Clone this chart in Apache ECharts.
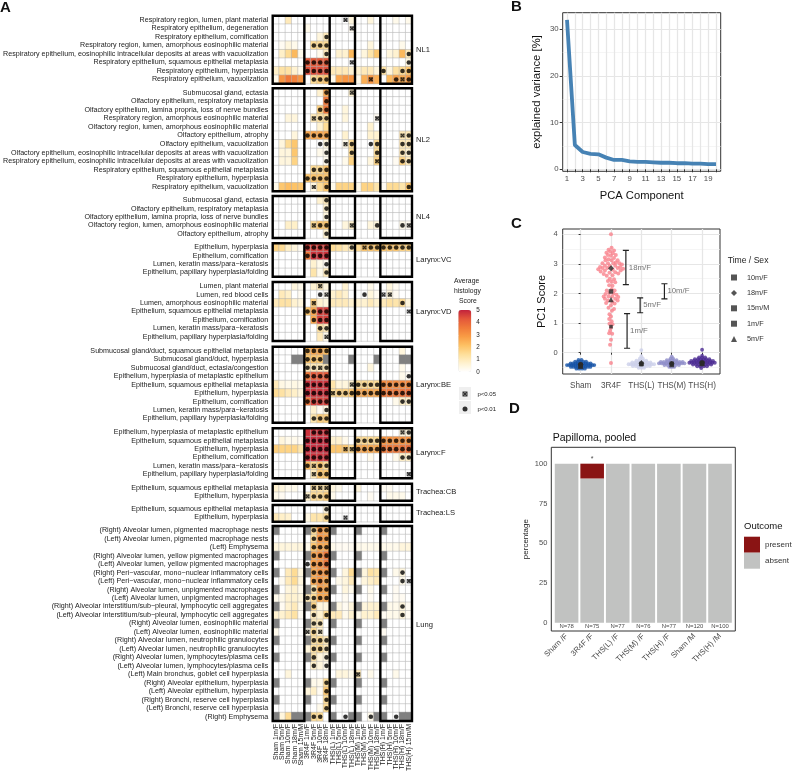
<!DOCTYPE html>
<html><head><meta charset="utf-8">
<style>html,body{margin:0;padding:0;background:#fff}#c{width:794px;height:774px}</style>
<script src="https://cdn.jsdelivr.net/npm/echarts@6/dist/echarts.min.js"></script>
</head><body><div id="c"></div>
<script>
const columns=['Sham 1m/F','Sham 5m/F','Sham 10m/F','Sham 18m/F','Sham 15m/M','3R4F 1m/F','3R4F 5m/F','3R4F 10m/F','3R4F 18m/F','THS(L) 1m/F','THS(L) 5m/F','THS(L) 10m/F','THS(L) 18m/F','THS(M) 1m/F','THS(M) 5m/F','THS(M) 10m/F','THS(M) 18m/F','THS(H) 1m/F','THS(H) 5m/F','THS(H) 10m/F','THS(H) 18m/F','THS(H) 15m/M'];
const groupBreaks=[5,9,13,17];

const nl1Rows=['Respiratory region, lumen, plant material','Respiratory epithelium, degeneration','Respiratory epithelium, cornification','Respiratory region, lumen, amorphous eosinophilic material','Respiratory epithelium, eosinophilic intracellular deposits at areas with vacuolization','Respiratory epithelium, squamous epithelial metaplasia','Respiratory epithelium, hyperplasia','Respiratory epithelium, vacuolization'];
const nl1Scores=[
[0,0,1,0,0, 0,0,0,0, 0,0,0,.5, 0,0,.5,0, 0,0,.3,0,.3],
[0,0,0,0,0, .3,0,0,0, 0,0,0,.2, 0,0,0,0, 0,0,0,0,0],
[0,0,0,0,0, 0,0,.5,1, 0,0,0,0, 0,0,0,0, 0,0,0,0,0],
[0,.2,.5,.3,0, 0,1.5,1.5,1.5, 0,0,0,0, 0,0,.5,0, 0,0,0,.3,0],
[0,.8,1.5,2.3,.3, 0,0,.3,1, 0,.7,.7,2.3, 0,.5,1.2,2, 0,.5,.7,2.3,1],
[0,0,0,0,0, 4.2,4.2,4.2,4.2, 0,0,0,0, 0,0,0,0, 0,0,0,0,.5],
[.8,1.3,1.3,.7,.3, 4.4,4.4,4.4,4.4, 1,1,1,.7, .7,1,1,.5, 1.3,.5,1.3,1.5,2],
[.3,3,3.6,3.4,3, 0,1.5,1.8,2, .3,2.7,3,3, .3,2.5,3,2.5, 0,2.3,2.8,2.5,2.8]];
const nl1P05=[[11],[12],[],[],[],[12],[],[15,20]];
const nl1P01=[[],[],[8],[6,7,8],[8,21],[5,6,7,8,21],[5,6,7,8,17,20,21],[6,7,8,19,21]];

const nl2Rows=['Submucosal gland, ectasia','Olfactory epithelium, respiratory metaplasia','Olfactory epithelium, lamina propria, loss of nerve bundles','Respiratory region, amorphous eosinophilic material','Olfactory region, lumen, amorphous eosinophilic material','Olfactory epithelium, atrophy','Olfactory epithelium, vacuolization','Olfactory epithelium, eosinophilic intracellular deposits at areas with vacuolization','Respiratory epithelium, eosinophilic intracellular deposits at areas with vacuolization','Respiratory epithelium, squamous epithelial metaplasia','Respiratory epithelium, hyperplasia','Respiratory epithelium, vacuolization'];
const nl2Scores=[
[0,0,0,0,0, 0,0,.7,2.6, 0,0,0,.7, 0,0,0,0, 0,0,0,0,0],
[0,0,0,0,0, 0,0,0,3.6, 0,0,0,0, 0,0,0,0, 0,0,0,0,0],
[0,0,0,0,0, 0,0,1.8,3.6, 0,0,.5,0, 0,0,0,0, 0,0,0,0,0],
[0,0,.5,.5,0, 0,1,1.3,1.5, 0,0,.5,0, 0,0,0,.2, 0,0,0,0,0],
[0,0,0,0,0, 0,0,.7,1.5, 0,0,0,0, 0,0,.7,0, 0,0,0,0,0],
[0,0,0,.5,0, 2.6,2.6,2.6,2.6, 0,0,.7,0, 0,0,.7,.7, 0,0,0,1,1],
[0,.5,1.5,2,0, 0,0,0,.5, 0,0,.3,1.5, 0,0,0,1.5, 0,0,0,1,1],
[0,.5,.5,2,0, 0,0,.3,.3, 0,0,0,1.5, 0,0,0,1.5, 0,0,0,1,.7],
[0,.5,.5,1.7,0, 0,0,0,.3, 0,0,.3,1.7, 0,0,.5,1.7, 0,0,.2,1.7,1],
[0,0,0,0,0, 0,1.5,1.5,2, 0,0,0,0, 0,0,0,0, 0,0,0,0,0],
[0,0,0,0,0, 2,2,2,2, 0,0,0,0, 0,0,0,0, 0,0,0,0,0],
[.3,2,2.2,2.1,2, 0,.5,1.5,2, .3,1.7,1.7,1.7, .3,1.7,1.7,1.2, .2,1.5,1.5,1.2,2]];
const nl2P05=[[12],[],[],[6,16],[],[20],[11],[],[16],[],[],[6]];
const nl2P01=[[8],[8],[7,8],[7,8],[],[5,6,7,8,21],[7,8,12,15,16,20,21],[8,12,16,20,21],[8,20,21],[6,7,8],[5,6,7,8],[8,21]];

const nl4Rows=['Submucosal gland, ectasia','Olfactory epithelium, respiratory metaplasia','Olfactory epithelium, lamina propria, loss of nerve bundles','Olfactory region, lumen, amorphous eosinophilic material','Olfactory epithelium, atrophy'];
const nl4Scores=[
[0,0,0,0,0, 0,0,.7,1, 0,0,0,0, 0,0,0,0, 0,0,0,0,0],
[0,0,0,0,0, 0,0,0,.7, 0,0,0,0, 0,0,0,0, 0,0,0,0,0],
[0,0,0,0,0, 0,0,0,.5, 0,0,0,0, 0,0,0,0, 0,0,0,0,0],
[0,0,.8,.8,0, 0,1.5,2,2, 0,0,.5,.7, 0,0,.5,.5, 0,0,0,.3,.2],
[0,0,0,0,0, 0,0,0,.7, 0,0,0,0, 0,0,0,0, 0,0,0,0,0]];
const nl4P05=[[],[],[],[6,12,21],[]];
const nl4P01=[[8],[8],[8],[7,8,16,20],[8]];

const vcRows=['Epithelium, hyperplasia','Epithelium, cornification','Lumen, keratin mass/para\u2212keratosis','Epithelium, papillary hyperplasia/folding'];
const vcScores=[
[1.7,1.5,.8,.5,.2, 4.6,4.6,4.6,4.6, 1.5,1.3,1,1, 1.5,2,2,2, 2,2,2,1.7,1.7],
[0,0,0,0,0, 3.6,4.8,4.8,4.8, 0,0,0,0, 0,0,0,0, 0,0,0,0,0],
[0,0,0,0,0, 0,.7,.3,.2, 0,0,0,0, 0,0,0,0, 0,0,0,0,0],
[0,0,0,0,0, 0,1.2,.3,1, 0,0,0,0, 0,0,0,0, 0,0,0,0,0]];
const vcP05=[[14],[],[],[]];
const vcP01=[[5,6,7,8,12,15,16,17,18,19,20,21],[5,6,7,8],[8],[8]];

const vdRows=['Lumen, plant material','Lumen, red blood cells','Lumen, amorphous eosinophilic material','Epithelium, squamous epithelial metaplasia','Epithelium, cornification','Lumen, keratin mass/para\u2212keratosis','Epithelium, papillary hyperplasia/folding'];
const vdScores=[
[0,0,0,.5,.3, 0,.7,1,.5, 0,0,.7,0, 0,0,.3,0, 0,.5,.2,0,0],
[0,1,.8,0,.2, 0,0,0,.2, .7,1,.7,0, 0,0,.5,.2, 0,.5,.2,0,0],
[1,1.3,1.3,.7,.5, 0,1.8,.7,.5, 1,1,1,.7, .7,.7,1,.7, 1,1.3,1.2,1.5,.5],
[0,0,0,0,0, 2,2.6,4.6,4.6, 0,0,0,0, 0,0,0,0, 0,0,0,0,0],
[0,0,0,0,0, 0,2.6,4.6,4.6, 0,0,0,0, 0,0,0,0, 0,0,0,0,0],
[0,0,0,0,0, 0,0,1.3,1, 0,0,0,0, 0,0,0,0, 0,0,0,0,0],
[0,0,0,0,0, 0,0,1,.3, 0,0,0,0, 0,0,0,0, 0,0,0,0,0]];
const vdP05=[[7],[8,17,18],[6],[21],[],[],[8]];
const vdP01=[[],[7,14],[20],[5,6,7,8],[6,7,8],[7,8],[]];

const beRows=['Submucosal gland/duct, squamous epithelial metaplasia','Submucosal gland/duct, hyperplasia','Submucosal gland/duct, ectasia/congestion','Epithelium, hyperplasia of metaplastic epithelium','Epithelium, squamous epithelial metaplasia','Epithelium, hyperplasia','Epithelium, cornification','Lumen, keratin mass/para\u2212keratosis','Epithelium, papillary hyperplasia/folding'];
const beScores=[
[0,0,0,0,0, 2.3,2.6,2.6,2.2, 0,0,0,0, 0,0,0,0, 0,0,0,.5,0],
[0,0,0,-1,-1, 2,2,2,-1, 0,0,0,-1, 0,0,0,-1, 0,0,0,-1,-1],
[0,0,0,0,0, 1,1,1,1, 0,0,0,0, 0,0,.5,0, 0,0,0,.3,0],
[0,0,0,0,0, 3.6,4.2,4.2,4.2, 0,0,0,0, 0,0,0,0, 0,0,0,.3,.2],
[1,.4,.3,.4,.3, 4.8,4.8,4.8,4.8, 1.2,.5,.5,.7, 1.5,1.5,1.5,1.5, 3.2,3.2,3.2,3.2,3.2],
[1.5,1.3,1,.8,.5, 4.8,4.8,4.8,4.8, 1.5,1.7,1.7,2, 2.6,2.6,2.6,2.6, 3.6,3.6,3.6,3.7,3.8],
[0,0,0,0,0, 3.6,4.6,4.6,4.6, 0,0,0,0, 0,0,0,0, 0,0,.3,.8,.8],
[0,0,0,0,0, 0,.7,.2,.5, 0,0,0,0, 0,0,0,0, 0,0,0,0,0],
[0,0,0,0,0, 0,1.2,1.8,1.8, 0,0,0,0, 0,0,0,0, 0,0,0,0,0]];
const beP05=[[],[],[7],[],[12],[9],[],[],[]];
const beP01=[[5,6,7,8],[5,6,7],[5,6,8],[5,6,7,8,21],[5,6,7,8,13,14,15,16,17,18,19,20,21],[5,6,7,8,10,11,12,13,14,15,16,17,18,19,20,21],[5,6,7,8,20,21],[8],[6,7,8]];

const fRows=['Epithelium, hyperplasia of metaplastic epithelium','Epithelium, squamous epithelial metaplasia','Epithelium, hyperplasia','Epithelium, cornification','Lumen, keratin mass/para\u2212keratosis','Epithelium, papillary hyperplasia/folding'];
const fScores=[
[0,0,0,0,0, 4.8,4.8,4.8,4.8, 0,0,0,0, 0,0,0,0, 0,0,0,.5,.5],
[0,.5,.3,.3,.2, 4.9,4.9,4.9,4.9, .7,.7,.3,0, 1.5,1.5,1.5,1.5, 3,3,3,3,3],
[1.8,1.7,1.7,1.7,1.2, 4.9,4.9,4.9,4.9, 2,2,2,1.5, 2.6,2.6,2.6,2.6, 3.6,3.6,3.6,3.7,3.8],
[0,0,0,0,0, 4.8,4.8,4.8,4.8, 0,0,0,0, 0,0,.3,0, 0,0,.3,.8,.8],
[0,0,0,0,0, 2.3,1.5,2,1.5, 0,0,0,0, 0,0,0,0, 0,0,0,0,0],
[0,0,0,0,0, 0,1,2,2, 0,0,0,0, 0,0,0,0, 0,0,0,0,0]];
const fP05=[[20],[],[11,12],[],[6],[6,21]];
const fP01=[[6,7,8,21],[5,6,7,8,13,14,15,16,17,18,19,20,21],[5,6,7,8,13,14,15,16,17,18,19,20,21],[5,6,7,8,20,21],[5,7,8],[7,8]];

const cbRows=['Epithelium, squamous epithelial metaplasia','Epithelium, hyperplasia'];
const cbScores=[
[.7,.5,.3,.3,0, 0,1.3,1.3,1.3, .5,.3,0,0, .5,0,0,0, .2,.2,0,0,0],
[.3,.2,0,0,0, .7,1.5,1.5,1.8, .3,0,0,0, 0,0,.2,0, 0,.3,.3,.3,0]];
const cbP05=[[6,7,8],[5]];
const cbP01=[[],[6,7,8]];

const lsRows=['Epithelium, squamous epithelial metaplasia','Epithelium, hyperplasia'];
const lsScores=[
[0,0,0,0,0, 0,0,0,.5, 0,0,0,0, 0,0,0,0, 0,0,0,0,0],
[1,.8,.7,0,0, .4,1.2,1.2,1.5, 0,0,0,0, 0,0,0,0, 0,0,0,0,0]];
const lsP05=[[],[11]];
const lsP01=[[8],[8]];

const lungRows=['(Right) Alveolar lumen, pigmented macrophage nests','(Left) Alveolar lumen, pigmented macrophage nests','(Left) Emphysema','(Right) Alveolar lumen, yellow pigmented macrophages','(Left) Alveolar lumen, yellow pigmented macrophages','(Right) Peri\u2212vascular, mono\u2212nuclear inflammatory cells','(Left) Peri\u2212vascular, mono\u2212nuclear inflammatory cells','(Right) Alveolar lumen, unpigmented macrophages','(Left) Alveolar lumen, unpigmented macrophages','(Right) Alveolar interstitium/sub\u2212pleural, lymphocytic cell aggregates','(Left) Alveolar interstitium/sub\u2212pleural, lymphocytic cell aggregates','(Right) Alveolar lumen, eosinophilic material','(Left) Alveolar lumen, eosinophilic material','(Right) Alveolar lumen, neutrophilic granulocytes','(Left) Alveolar lumen, neutrophilic granulocytes','(Right) Alveolar lumen, lymphocytes/plasma cells','(Left) Alveolar lumen, lymphocytes/plasma cells','(Left) Main bronchus, goblet cell hyperplasia','(Right) Alveolar epithelium, hyperplasia','(Left) Alveolar epithelium, hyperplasia','(Right) Bronchi, reserve cell hyperplasia','(Left) Bronchi, reserve cell hyperplasia','(Right) Emphysema'];
const lungScores=[
[-1,0,0,0,0, -1,1.5,3,2.6, -1,0,0,0, -1,0,0,0, -1,0,0,0,0],
[0,0,0,0,0, 0,1.5,3,2.8, 0,0,0,0, 0,0,0,0, 0,0,0,0,0],
[.5,.5,.5,.5,.5, .3,2,2.6,2.6, .3,.2,.2,.2, .3,.3,.3,.3, .3,.3,.3,.5,.5],
[-1,0,0,0,0, -1,2.6,3,3.6, -1,0,0,0, -1,0,0,0, -1,0,0,0,0],
[0,0,0,0,0, 0,2.8,3,3.6, 0,0,0,0, 0,0,0,0, 0,0,0,0,0],
[-1,0,1,1.5,.5, -1,2.6,3,3, -1,0,.5,1.5, -1,.5,1.3,1.2, -1,0,.3,.5,0],
[0,.2,1,1.5,.5, 0,2.6,3,2.6, 0,.3,.5,1, 0,.5,.8,1, 0,0,0,.3,0],
[-1,0,.5,.7,.3, -1,1.2,2.8,2.6, -1,0,.5,.3, -1,0,.3,0, -1,0,.2,0,0],
[.3,.3,.7,.7,.5, 1,1.5,2.6,2.6, 0,0,.2,0, 0,0,.2,0, 0,0,.2,.2,0],
[-1,.2,.7,1,.3, -1,1.7,.5,.5, -1,.4,.2,.5, -1,.5,.7,.7, -1,.3,.3,.5,.2],
[.7,.7,1,1.3,.2, 0,1,.7,1.5, 1,1,.3,.7, .3,.7,.7,1, .2,.3,.3,.5,.2],
[-1,0,0,0,0, -1,1,1,0, -1,0,0,0, -1,0,0,0, -1,0,0,0,0],
[.3,0,0,0,0, .3,1.5,.7,0, 0,0,0,0, 0,0,0,0, .2,0,0,0,0],
[-1,0,0,0,0, -1,1.3,1.5,1, -1,0,0,0, -1,0,0,0, -1,0,0,0,0],
[0,0,0,0,0, .5,1.3,1.5,1, 0,0,0,0, 0,0,0,0, 0,0,0,0,0],
[-1,0,0,0,0, -1,1.2,.5,.5, -1,0,0,0, -1,0,0,0, -1,0,0,0,0],
[0,0,0,0,0, 0,.8,.5,.3, 0,0,0,0, 0,0,0,0, 0,0,0,0,0],
[0,0,.5,0,0, 0,0,0,0, 0,.5,.5,.3, 1,0,.3,0, 0,0,.3,0,0],
[-1,0,0,0,0, -1,.3,.3,1.5, -1,0,0,0, -1,0,0,0, -1,0,0,0,0],
[0,0,0,0,0, .5,.8,.2,2, 0,0,0,0, 0,0,0,0, 0,0,0,0,0],
[-1,0,0,0,0, -1,0,0,1.5, -1,0,0,0, -1,0,0,0, -1,0,0,0,0],
[0,0,0,0,0, 0,0,.3,1.5, 0,0,0,0, 0,0,0,0, 0,0,0,0,0],
[-1,.5,1.5,-1,-1, -1,1.5,1.5,0, -1,0,0,-1, -1,0,.3,-1, -1,0,0,-1,-1]];
const lungP05=[[],[],[],[],[],[],[21],[],[],[],[],[],[5,7],[],[],[],[],[13],[],[],[],[],[]];
const lungP01=[[6,7,8],[6,7,8],[6,7,8],[6,7,8],[5,6,7,8],[6,7,8,20],[6,7,8,20],[6,7,8],[5,6,7,8],[6,20],[6,8,20],[6,7],[6],[6,7,8],[6,7,8],[6,8],[6,8],[],[8],[8],[8],[8],[6,7,11,15,19]];

const varianceComponents=['1','2','3','4','5','6','7','8','9','10','11','12','13','14','15','16','17','18','19','20'];
const explainedVariance=[32,5.2,3.7,3.3,3.2,2.5,2,2,1.7,1.6,1.6,1.5,1.4,1.4,1.3,1.3,1.2,1.2,1.1,1.1];

const pcaGroups=['Sham','3R4F','THS(L)','THS(M)','THS(H)'];
const shamSwarm=[[-.45,-.42],[-.38,-.42],[-.31,-.42],[-.24,-.42],[-.17,-.42],[-.1,-.42],[-.03,-.42],[.04,-.42],[.11,-.42],[.18,-.42],[.25,-.42],[.32,-.42],[.39,-.42],[.45,-.42],[-.33,-.36],[-.25,-.36],[-.17,-.36],[-.09,-.36],[0,-.36],[.09,-.36],[.17,-.36],[.25,-.36],[.33,-.36],[-.32,-.48],[-.24,-.48],[-.16,-.48],[-.08,-.48],[0,-.48],[.08,-.48],[.16,-.48],[.24,-.48],[.32,-.48],[-.18,-.3],[-.09,-.3],[0,-.3],[.09,-.3],[.18,-.3],[-.14,-.54],[-.05,-.54],[.05,-.54],[.14,-.54],[-.07,-.24],[.03,-.24]];
const r3r4fSwarm=[[0,4],[.02,3.55],[-.08,3.48],[.1,3.45],[-.03,3.42],[-.15,3.38],[.06,3.36],[.16,3.3],[-.1,3.3],[-.2,3.22],[0,3.28],[.1,3.2],[-.08,3.16],[-.18,3.12],[.02,3.12],[.22,3.12],[.16,3.05],[-.28,3.02],[-.1,3.02],[.08,3.02],[.28,3.02],[.36,2.98],[-.2,2.94],[-.04,2.94],[.14,2.94],[-.36,2.9],[.3,2.9],[-.28,2.86],[-.12,2.86],[.22,2.86],[.4,2.84],[-.42,2.82],[.06,2.8],[-.2,2.78],[.32,2.78],[.14,2.72],[-.34,2.74],[-.05,2.7],[-.24,2.66],[.24,2.68],[.05,2.62],[-.14,2.6],[-.04,2.5],[.1,2.48],[-.1,2.42],[.02,2.4],[.14,2.38],[-.06,2.28],[.05,2.26],[.02,2.14],[-.14,2.1],[.12,2.1],[-.06,2.02],[.08,2],[-.18,1.98],[.18,1.96],[-.24,1.9],[-.08,1.9],[.04,1.9],[.24,1.88],[-.2,1.82],[.14,1.82],[-.1,1.76],[.04,1.72],[.22,1.76],[-.16,1.68],[.12,1.66],[0,1.6],[-.08,1.52],[.1,1.48],[.03,1.42],[-.05,1.3],[0,1.22],[-.06,1.14],[.02,1.06],[-.05,.98],[.05,.96],[0,.84],[-.03,.74],[-.06,.66],[.04,.64],[0,.44],[-.03,.27],[0,-.35]];
const thsLSwarm=[[-.42,-.39],[-.34,-.39],[-.26,-.39],[-.18,-.39],[-.09,-.39],[0,-.39],[.09,-.39],[.18,-.39],[.26,-.39],[.34,-.39],[.42,-.39],[-.3,-.33],[-.2,-.33],[-.1,-.33],[0,-.33],[.1,-.33],[.2,-.33],[.3,-.33],[-.28,-.45],[-.18,-.45],[-.09,-.45],[0,-.45],[.09,-.45],[.18,-.45],[.28,-.45],[-.16,-.27],[-.06,-.27],[.06,-.27],[.16,-.27],[-.09,-.51],[0,-.51],[.09,-.51],[-.05,-.2],[.05,-.2],[0,-.12],[0,.09]];
const thsMSwarm=[[-.42,-.36],[-.34,-.36],[-.26,-.36],[-.18,-.36],[-.09,-.36],[0,-.36],[.09,-.36],[.18,-.36],[.26,-.36],[.34,-.36],[.42,-.36],[-.36,-.31],[-.26,-.31],[-.16,-.31],[-.06,-.31],[.06,-.31],[.16,-.31],[.26,-.31],[.36,-.31],[-.24,-.42],[-.14,-.42],[-.05,-.42],[.05,-.42],[.14,-.42],[.24,-.42],[-.16,-.25],[-.06,-.25],[.06,-.25],[.16,-.25],[-.08,-.48],[0,-.48],[.08,-.48],[-.04,-.2],[.04,-.19],[0,-.13]];
const thsHSwarm=[[-.42,-.34],[-.34,-.34],[-.26,-.34],[-.18,-.34],[-.09,-.34],[0,-.34],[.09,-.34],[.18,-.34],[.26,-.34],[.34,-.34],[.42,-.34],[-.36,-.28],[-.27,-.28],[-.18,-.28],[-.09,-.28],[0,-.28],[.09,-.28],[.18,-.28],[.27,-.28],[.36,-.28],[-.3,-.4],[-.2,-.4],[-.1,-.4],[0,-.4],[.1,-.4],[.2,-.4],[.3,-.4],[-.24,-.22],[-.14,-.22],[-.05,-.22],[.05,-.22],[.14,-.22],[.24,-.22],[-.16,-.46],[-.06,-.46],[.06,-.46],[.16,-.46],[-.1,-.16],[0,-.16],[.1,-.16],[-.03,-.52],[0,-.1],[0,.1]];
const swarmColors=['#1553a6','#f9828c','#cccfea','#8f8dc9','#4b2a92'];
const mean10mF=[-.42,2.07,-.38,-.38,-.35];
const mean18mF=[-.4,2.85,-.36,-.37,-.34];
const mean15mM=[-.44,null,null,null,-.36];
const mean1mF=[-.38,.88,-.4,-.36,-.33];
const mean5mF=[-.46,1.8,-.34,-.4,-.37];
const brackets=[['18m/F',1.49,2.3,3.46],['5m/F',1.96,1.35,1.85],['10m/F',2.76,1.82,2.33],['1m/F',1.53,.15,1.32]];

const papillomaGroups=['Sham /F','3R4F /F','THS(L) /F','THS(M) /F','THS(H) /F','Sham /M','THS(H) /M'];
const papillomaAbsent=[100,90.7,100,100,100,100,100];
const papillomaPresent=[0,9.3,0,0,0,0,0];
const papillomaN=['N=78','N=75','N=77','N=76','N=77','N=120','N=100'];

const heatColors=['#ffffff','#fff2cf','#fedf9a','#fdc164','#f99c45','#f07a3a','#e4573a','#c2223c'];
const FONT='"Liberation Sans",Arial,sans-serif';
const xMark='path://M0 0L10 0L10 10L0 10ZM3.4 1L5 2.6L6.6 1ZM9 3.4L7.4 5L9 6.6ZM6.6 9L5 7.4L3.4 9ZM1 6.6L2.6 5L1 3.4Z';

const facets=[
 {name:'NL1',rows:nl1Rows,scores:nl1Scores,p05:nl1P05,p01:nl1P01,top:15.7,bottom:83.7},
 {name:'NL2',rows:nl2Rows,scores:nl2Scores,p05:nl2P05,p01:nl2P01,top:88.3,bottom:191.3},
 {name:'NL4',rows:nl4Rows,scores:nl4Scores,p05:nl4P05,p01:nl4P01,top:196,bottom:238},
 {name:'Larynx:VC',rows:vcRows,scores:vcScores,p05:vcP05,p01:vcP01,top:243.3,bottom:276.7},
 {name:'Larynx:VD',rows:vdRows,scores:vdScores,p05:vdP05,p01:vdP01,top:282,bottom:341},
 {name:'Larynx:BE',rows:beRows,scores:beScores,p05:beP05,p01:beP01,top:346.7,bottom:422.7},
 {name:'Larynx:F',rows:fRows,scores:fScores,p05:fP05,p01:fP01,top:428.3,bottom:478.3},
 {name:'Trachea:CB',rows:cbRows,scores:cbScores,p05:cbP05,p01:cbP01,top:483.7,bottom:500.7},
 {name:'Trachea:LS',rows:lsRows,scores:lsScores,p05:lsP05,p01:lsP01,top:505,bottom:521.7},
 {name:'Lung',rows:lungRows,scores:lungScores,p05:lungP05,p01:lungP01,top:526,bottom:723.3}
];
const HL=272.7,HW=139.3;
const grid=[],xAxis=[],yAxis=[],series=[],heatIdx=[],graphicEls=[];
function txt(x,y,text,size,opt){graphicEls.push({type:'text',x,y,silent:true,style:Object.assign({text,fontSize:size,fontFamily:FONT,fill:'#222',verticalAlign:'middle',align:'left'},opt||{})});}

facets.forEach((f,fi)=>{
  const g=grid.length;
  grid.push({left:HL,top:f.top,width:HW,height:f.bottom-f.top});
  const last=fi===facets.length-1;
  const xc=xAxis.length;
  xAxis.push({type:'category',gridIndex:g,data:columns,position:'bottom',axisLine:{show:false},axisTick:{show:false},splitLine:{show:false},
    axisLabel:last?{show:true,interval:0,rotate:90,fontSize:7,fontFamily:FONT,color:'#222',margin:3}:{show:false}});
  const xv=xAxis.length;
  xAxis.push({type:'value',gridIndex:g,min:0,max:columns.length,show:false,position:'top'});
  const yc=yAxis.length;
  yAxis.push({type:'category',gridIndex:g,data:f.rows,inverse:true,axisLine:{show:false},axisTick:{show:false},splitLine:{show:false},
    axisLabel:{interval:0,fontSize:7.15,fontFamily:FONT,color:'#222',margin:4.5}});
  const yv=yAxis.length;
  yAxis.push({type:'value',gridIndex:g,min:0,max:1,show:false,position:'right'});
  const cells=[],missing=[];
  f.scores.forEach((r,ri)=>r.forEach((v,ci)=>(v<0?missing:cells).push([ci,ri,v])));
  heatIdx.push(series.length);
  series.push({type:'heatmap',xAxisIndex:xc,yAxisIndex:yc,data:cells,itemStyle:{borderColor:'#b3b3b3',borderWidth:.5},silent:true,z:2});
  if(missing.length) series.push({type:'heatmap',xAxisIndex:xc,yAxisIndex:yc,data:missing,itemStyle:{color:'#808080',borderColor:'#808080',borderWidth:.5},silent:true,z:2});
  const pts=m=>{const o=[];m.forEach((cols,ri)=>cols.forEach(ci=>o.push([ci,ri])));return o;};
  series.push({name:'p<0.05',type:'scatter',xAxisIndex:xc,yAxisIndex:yc,data:pts(f.p05),symbol:xMark,symbolSize:4.2,itemStyle:{color:'#000'},silent:true,z:4});
  series.push({name:'p<0.01',type:'scatter',xAxisIndex:xc,yAxisIndex:yc,data:pts(f.p01),symbol:'circle',symbolSize:4.6,itemStyle:{color:'#000'},silent:true,z:4});
  const n=columns.length,b=groupBreaks,path=[[0,0],[b[0],0],[b[0],1],[b[1],1],[b[1],0],[b[2],0],[b[2],1],[b[3],1],[b[3],0],[n,0],[n,1],[0,1],[0,0]];
  series.push({type:'line',xAxisIndex:xv,yAxisIndex:yv,data:path,symbol:'none',clip:false,lineStyle:{color:'#000',width:2.4,join:'miter',cap:'square'},silent:true,z:6});
  txt(416,(f.top+f.bottom)/2,f.name,7.6);
});

/* colour-bar scale */
{
  const g=grid.length;
  grid.push({left:458.3,top:310,width:13,height:62});
  xAxis.push({type:'value',gridIndex:g,min:0,max:1,show:false});
  yAxis.push({type:'value',gridIndex:g,min:0,max:5,interval:1,position:'right',z:8,axisLine:{show:false},splitLine:{show:false},
    axisTick:{inside:true,length:3,lineStyle:{color:'#fff',width:.6}},axisLabel:{inside:false,margin:5,fontSize:6.3,fontFamily:FONT,color:'#222'}});
}

/* Panel B */
{
  const g=grid.length,xi=xAxis.length,yi=yAxis.length;
  grid.push({left:562.7,top:12.7,width:158,height:158.6,show:true,borderColor:'#333',borderWidth:1,backgroundColor:'#fff'});
  const major=varianceComponents.map(Number);
  xAxis.push({type:'value',gridIndex:g,min:.45,max:20.6,name:'PCA Component',nameLocation:'middle',nameGap:19.5,nameTextStyle:{fontSize:11.2,fontFamily:FONT,color:'#111'},
    axisLine:{show:false},axisTick:{length:3,customValues:major,lineStyle:{color:'#333'}},splitLine:{show:true,lineStyle:{color:'#e6e6e6',width:1.3}},
    axisLabel:{customValues:major.filter(v=>v%2===1),fontSize:7.8,margin:4,fontFamily:FONT,color:'#4d4d4d'}});
  yAxis.push({type:'value',gridIndex:g,min:-.43,max:33.55,name:'explained variance [%]',nameLocation:'middle',nameGap:20,nameTextStyle:{fontSize:11.3,fontFamily:FONT,color:'#111'},
    axisLine:{show:false},axisTick:{length:3,customValues:[0,10,20,30],lineStyle:{color:'#333'}},splitLine:{show:true,lineStyle:{color:'#e6e6e6',width:1.1}},
    axisLabel:{customValues:[0,10,20,30],fontSize:7.8,margin:4,fontFamily:FONT,color:'#4d4d4d'}});
  yAxis.push({type:'value',gridIndex:g,min:-.43,max:33.55,position:'right',axisLine:{show:false},axisLabel:{show:false},axisTick:{show:false,customValues:[5,15,25]},splitLine:{show:true,lineStyle:{color:'#eeeeee',width:.6}}});
  series.push({type:'line',xAxisIndex:xi,yAxisIndex:yi,data:major.map((v,i)=>[v,explainedVariance[i]]),symbol:'none',lineStyle:{color:'#4682b4',width:3.8},silent:true,z:4});
}

/* Panel C */
{
  const g=grid.length,xi=xAxis.length,yi=yAxis.length;
  grid.push({left:562.7,top:229,width:157.3,height:145,show:true,borderColor:'#333',borderWidth:1,backgroundColor:'#fff'});
  xAxis.push({type:'value',gridIndex:g,min:-.59,max:4.59,axisLine:{show:false},axisTick:{length:2,customValues:[0,1,2,3,4],lineStyle:{color:'#333'}},splitLine:{show:true,lineStyle:{color:'#e6e6e6',width:1.3}},
    axisLabel:{customValues:[0,1,2,3,4],formatter:v=>pcaGroups[v],fontSize:8.2,margin:8,fontFamily:FONT,color:'#4d4d4d',hideOverlap:false}});
  yAxis.push({type:'value',gridIndex:g,min:-.72,max:4.18,name:'PC1 Score',nameLocation:'middle',nameGap:15.5,nameTextStyle:{fontSize:11,fontFamily:FONT,color:'#111'},
    axisLine:{show:false},axisTick:{length:2,customValues:[0,1,2,3,4],lineStyle:{color:'#333'}},splitLine:{show:true,lineStyle:{color:'#e6e6e6',width:1.1}},
    axisLabel:{customValues:[0,1,2,3,4],fontSize:7.5,margin:5,fontFamily:FONT,color:'#4d4d4d'}});
  yAxis.push({type:'value',gridIndex:g,min:-.72,max:4.18,position:'right',axisLine:{show:false},axisLabel:{show:false},axisTick:{show:false,customValues:[-.5,.5,1.5,2.5,3.5]},splitLine:{show:true,lineStyle:{color:'#eeeeee',width:.6}}});
  [shamSwarm,r3r4fSwarm,thsLSwarm,thsMSwarm,thsHSwarm].forEach((pts,i)=>{
    series.push({type:'scatter',xAxisIndex:xi,yAxisIndex:yi,data:pts.map(p=>[i+p[0],p[1]]),symbolSize:i===1?4:3.8,itemStyle:{color:swarmColors[i]},silent:true,z:3});
  });
  const means=[['10m/F',mean10mF,'rect',4.5],['18m/F',mean18mF,'diamond',6],['15m/M',mean15mM,'rect',4.8],['1m/F',mean1mF,'rect',3.6],['5m/F',mean5mF,'triangle',5.4]];
  means.forEach(m=>{
    series.push({name:m[0],type:'scatter',xAxisIndex:xi,yAxisIndex:yi,data:m[1].map((v,i)=>v==null?null:[i,v]).filter(Boolean),symbol:m[2],symbolSize:m[3],itemStyle:{color:'#2b2b2b'},silent:true,z:5});
  });
  brackets.forEach(b=>{
    const c=.1;
    series.push({type:'line',xAxisIndex:xi,yAxisIndex:yi,data:[[b[1]-c,b[3]],[b[1]+c,b[3]],[b[1],b[3]],[b[1],b[2]],[b[1]-c,b[2]],[b[1]+c,b[2]]],symbol:'none',lineStyle:{color:'#222',width:1.2},silent:true,z:5});
    series.push({type:'scatter',xAxisIndex:xi,yAxisIndex:yi,data:[{name:b[0],value:[b[1],(b[2]+b[3])/2]}],symbolSize:1,itemStyle:{color:'transparent'},silent:true,z:6,
      label:{show:true,position:'right',distance:2.5,formatter:'{b}',fontSize:7.8,fontFamily:FONT,color:'#4d4d4d'}});
  });
}

/* Panel D: frame grid plus an inner data grid whose bands match the bar spacing */
{
  const f=grid.length;
  grid.push({left:551.3,top:447.3,width:184,height:183.7,show:true,borderColor:'#333',borderWidth:1,backgroundColor:'#fff'});
  xAxis.push({type:'value',gridIndex:f,min:0,max:1,show:false});
  yAxis.push({type:'value',gridIndex:f,min:0,max:1,show:false});
  const g=grid.length,xi=xAxis.length,yi=yAxis.length;
  grid.push({left:553.8,top:447.3,width:179,height:183.7});
  const idx=papillomaGroups.map((_,i)=>i);
  xAxis.push({type:'category',gridIndex:g,data:papillomaGroups,axisLine:{show:false},splitLine:{show:false},axisTick:{length:3,alignWithLabel:true,interval:0,lineStyle:{color:'#333'}},
    axisLabel:{interval:0,rotate:45,fontSize:7.8,margin:4,fontFamily:FONT,color:'#4d4d4d'}});
  yAxis.push({type:'value',gridIndex:g,min:-5.2,max:110.3,name:'percentage',nameLocation:'middle',nameGap:24.5,nameTextStyle:{fontSize:8,fontFamily:FONT,color:'#222'},
    axisLine:{show:false},splitLine:{show:false},axisTick:{length:3,customValues:[0,25,50,75,100],lineStyle:{color:'#333'}},
    axisLabel:{customValues:[0,25,50,75,100],fontSize:7.5,margin:6.5,fontFamily:FONT,color:'#4d4d4d'}});
  series.push({name:'absent',type:'bar',stack:'p',xAxisIndex:xi,yAxisIndex:yi,barWidth:23.6,data:papillomaAbsent,itemStyle:{color:'#c1c2c1'},silent:true,z:3});
  series.push({name:'present',type:'bar',stack:'p',xAxisIndex:xi,yAxisIndex:yi,barWidth:23.6,data:papillomaPresent,itemStyle:{color:'#8a1414'},silent:true,z:3});
  series.push({type:'scatter',xAxisIndex:xi,yAxisIndex:yi,data:idx.map(i=>({name:papillomaN[i],value:[i,-2.6]})),symbolSize:1,itemStyle:{color:'transparent'},silent:true,z:5,
    label:{show:true,position:'inside',formatter:'{b}',fontSize:5.9,fontFamily:FONT,color:'#111'}});
  series.push({type:'scatter',xAxisIndex:xi,yAxisIndex:yi,data:[{name:'*',value:[1,102.6]}],symbolSize:1,itemStyle:{color:'transparent'},silent:true,z:5,
    label:{show:true,position:'inside',formatter:'{b}',fontSize:7,fontFamily:FONT,color:'#111'}});
}

/* text not tied to an axis */
txt(0,8,'A',15,{fontWeight:'bold',fill:'#111'});
txt(511,7,'B',15,{fontWeight:'bold',fill:'#111'});
txt(511,223.5,'C',15,{fontWeight:'bold',fill:'#111'});
txt(509,409,'D',15,{fontWeight:'bold',fill:'#111'});
txt(454,281,'Average',6.8);txt(454,291,'histology',6.8);txt(459,301.5,'Score',6.8);
txt(727.7,261,'Time / Sex',8.6);
txt(552.7,438.3,'Papilloma, pooled',10.5,{fill:'#111'});
txt(744,526.7,'Outcome',9.5,{fill:'#111'});
graphicEls.unshift({type:'rect',silent:true,z:-1,shape:{x:459,y:387,width:12,height:13},style:{fill:'#efefef'}},{type:'rect',silent:true,z:-1,shape:{x:459,y:401,width:12,height:13},style:{fill:'#efefef'}});

const option={
  animation:false,backgroundColor:'#fff',textStyle:{fontFamily:FONT},
  grid,xAxis,yAxis,series,
  visualMap:[{type:'continuous',seriesIndex:heatIdx,dimension:2,min:0,max:5,calculable:false,show:true,left:458.3,top:310,itemWidth:13,itemHeight:62,padding:0,text:null,showLabel:false,textStyle:{fontSize:0},
    inRange:{color:heatColors}}],
  legend:[
   {data:['10m/F','18m/F','15m/M','1m/F','5m/F'],orient:'vertical',left:731,top:274,itemWidth:6,itemHeight:6,itemGap:8.4,padding:0,selectedMode:false,textStyle:{fontSize:7.3,fontFamily:FONT,color:'#333',padding:[0,0,0,5]}},
   {data:[{name:'present',icon:'rect'},{name:'absent',icon:'rect'}],orient:'vertical',left:744,top:536.7,itemWidth:16,itemHeight:16,itemGap:0,padding:0,selectedMode:false,textStyle:{fontSize:8,fontFamily:FONT,color:'#333'}},
   {data:[{name:'p<0.05',icon:xMark},{name:'p<0.01',icon:'circle'}],orient:'vertical',left:462.5,top:391,itemWidth:5,itemHeight:5,itemGap:9,padding:0,selectedMode:false,textStyle:{fontSize:6,fontFamily:FONT,color:'#222',padding:[0,0,0,5]}}
  ],
  graphic:{elements:graphicEls}
};
const chart=echarts.init(document.getElementById('c'),null,{renderer:'canvas',width:794,height:774});
chart.setOption(option);
</script></body></html>
